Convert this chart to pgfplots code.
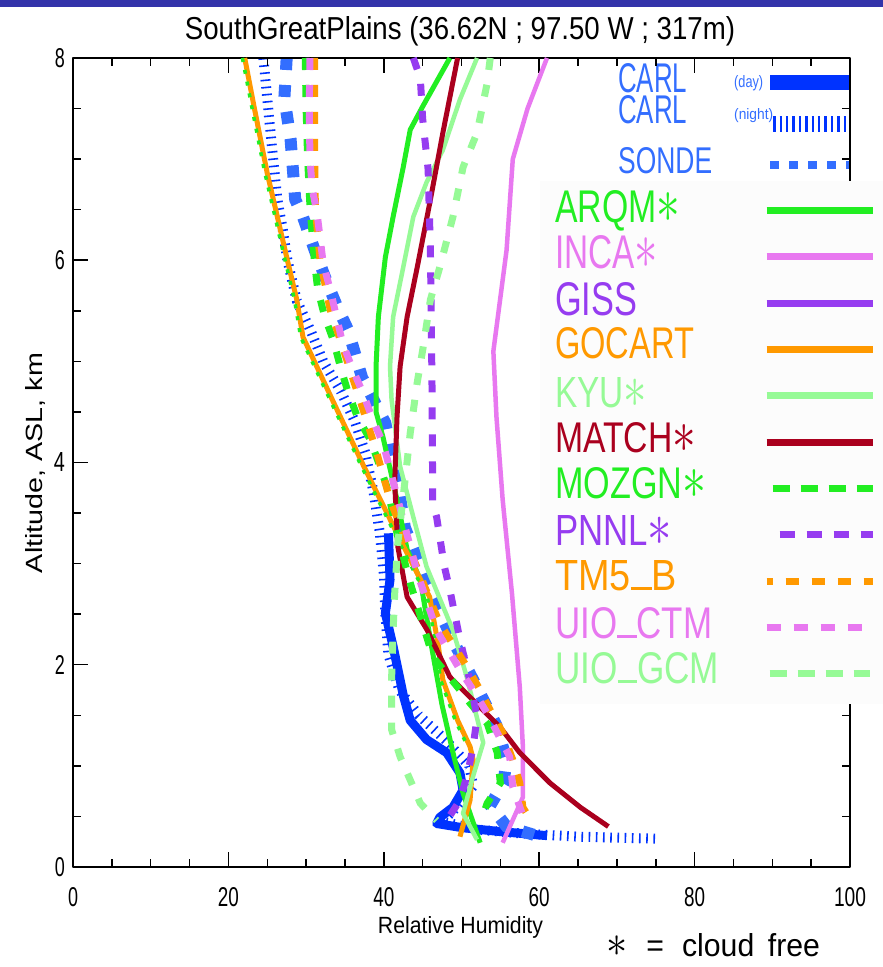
\documentclass[border=0pt]{standalone}
\usepackage{pgfplots}
\pgfplotsset{compat=1.18}
\usepackage{graphicx}
\usepackage{fontspec}
\setmainfont{Liberation Sans}

\definecolor{cblue}{RGB}{0,51,255}
\definecolor{sblue}{RGB}{51,110,255}
\definecolor{cgreen}{RGB}{34,238,34}
\definecolor{clgreen}{RGB}{150,250,150}
\definecolor{cviolet}{RGB}{232,120,240}
\definecolor{cpurple}{RGB}{150,60,240}
\definecolor{corange}{RGB}{255,153,0}
\definecolor{cred}{RGB}{170,0,30}
\definecolor{topbar}{RGB}{51,51,170}
\definecolor{legbg}{RGB}{252,252,252}

% text squeezed to a given width and height (bp)
\newcommand{\hx}[3]{\resizebox{#1bp}{#2bp}{#3}}
\newcommand{\capr}[4]{\smash{\raisebox{#3bp}{\hx{#1}{#2}{#4}}}}
\newcommand{\lrow}[3]{\rule[-#1bp]{0pt}{\dimexpr #1bp*2\relax}\makebox[#2bp][l]{#3}}
\newcommand{\astr}{\scalebox{1.4}{$\ast$}}
\newcommand{\us}{\rule{0.556em}{0.07em}}
\newcommand{\lm}[5]{\lrow{23.15}{170}{\textcolor{#1}{\capr{#2}{#3}{#4}{#5}}}}
\newcommand{\um}[1]{\lrow{20.5}{138}{#1}}

\pgfplotsset{
  base/.style={scale only axis, width=777bp, height=809bp,
    xmin=0, xmax=100, ymin=0, ymax=8,
    at={(73bp,100bp)}, anchor=south west, no markers, line join=round},
  % legend key: a common left reference at -20bp, then the stroke
  limg/.style n args={3}{legend image code/.code={\path (-20bp,0bp);\draw[#1] (#2bp,0bp) -- (#3bp,0bp);}},
  dsh/.style={line width=7bp, dash pattern=on 12bp off 15bp, line join=miter},
}

\begin{document}
\begin{tikzpicture}
\useasboundingbox (0,0) rectangle (883bp,967bp);
\fill[white] (0,0) rectangle (883bp,967bp);
\fill[topbar] (0,960bp) rectangle (883bp,967bp);

% observations: Raman lidar (day, night) and radiosonde
\begin{axis}[base, hide axis,
  legend style={at={(0.7014,0.9951)}, anchor=north west, draw=none, fill=none,
    inner sep=0pt, row sep=0pt, column sep=0pt,
    nodes={inner sep=0pt, text depth=}, cells={anchor=west}},
  legend plot pos=right]
\addplot[cblue, line width=9bp, limg={cblue, line width=15bp}{-12}{68}] coordinates {
 (40.6,3.30) (40.8,2.84) (40.2,2.51) (41.2,2.18) (42.1,1.85) (42.5,1.70) (43.4,1.45)
 (45.5,1.26) (48.1,1.13) (49.8,0.93) (50.2,0.76) (48.9,0.59) (47.2,0.49) (46.8,0.43)
 (50.0,0.39) (55.0,0.35) (61.0,0.31)};
\addlegendentry{\um{\textcolor{sblue}{\capr{69}{29}{-9.5}{CARL}\hspace{47bp}\capr{29}{12}{-4.5}{(day)}}}}
\addplot[cblue, line width=10bp, dash pattern=on 1.6bp off 5.6bp, line join=miter,
  limg={cblue, line width=16bp, dash pattern=on 2.4bp off 4bp}{-9}{68}] coordinates {
 (24.5,8.0) (25.0,7.6) (25.5,7.2) (26.3,6.6) (27.0,6.3) (27.6,6.0) (28.8,5.6) (30.6,5.3)
 (32.2,5.0) (34.5,4.7) (36.3,4.4) (37.6,4.1) (38.7,3.7) (39.5,3.3) (40.0,2.9) (40.2,2.5)
 (40.6,2.1) (42.0,1.75) (44.5,1.5) (48.0,1.25) (51.0,1.0) (51.5,0.8) (49.5,0.6) (47.5,0.45)
 (52.0,0.37) (58.0,0.33) (65.0,0.30) (75.0,0.28)};
\addlegendentry{\um{\textcolor{sblue}{\capr{69}{28}{0.5}{CARL}\hspace{47bp}\capr{39}{11}{4.5}{(night)}}}}
\addplot[sblue, line width=12bp, dash pattern=on 12bp off 15bp, line join=miter,
  limg={sblue, line width=8bp, dash pattern=on 9bp off 10bp}{-12}{68}] coordinates {
 (27.5,8.0) (27.2,7.6) (28.0,7.2) (28.3,6.9) (28.6,6.6) (29.5,6.45) (31.1,6.1) (32.7,5.78)
 (34.0,5.54) (35.4,5.31) (37.2,4.84) (38.8,4.6) (40.2,4.39) (40.8,4.15) (42.0,3.7) (42.7,3.36)
 (45.5,2.8) (48.9,2.24) (51.7,1.82) (54.5,1.4) (55.8,1.06) (55.4,0.83) (53.7,0.61) (55.8,0.40)
 (60.1,0.30)};
\addlegendentry{\um{\textcolor{sblue}{\capr{94}{26}{-8.5}{SONDE}}}}
\end{axis}

% models
\begin{axis}[base,
  xtick={0,20,...,100}, ytick={0,2,...,8},
  minor x tick num=3, minor y tick num=3,
  tick align=inside, major tick length=15bp, minor tick length=8bp,
  tick style={black, line width=1.5bp},
  axis line style={black, line width=2bp},
  xticklabels={\hx{10}{19}{0},\hx{21}{19}{20},\hx{21}{19}{40},\hx{21}{19}{60},\hx{21}{19}{80},\hx{32}{19}{100}},
  yticklabels={\hx{10}{19}{0},\hx{10}{19}{2},\hx{11}{19}{4},\hx{10}{19}{6},\hx{10}{19}{8}},
  xticklabel style={anchor=north, inner sep=0pt, yshift=-20bp},
  yticklabel style={anchor=east, inner sep=0pt, xshift=-8bp},
  legend style={at={(0.6010,0.8488)}, anchor=north west, draw=none, fill=legbg,
    inner xsep=15bp, inner ysep=7bp, row sep=0pt, column sep=26bp,
    nodes={inner sep=0pt, text depth=}, cells={anchor=west}},
  legend plot pos=right]
\addplot[cgreen, line width=5bp, limg={cgreen, line width=7bp}{-8}{98}] coordinates {
 (48.5,8.0) (45.0,7.52) (43.4,7.29) (42.5,6.92) (41.2,6.43) (40.2,6.03) (39.3,5.44) (39.0,4.95)
 (39.0,4.50) (39.9,4.25) (41.7,3.63) (43.0,3.14) (44.7,2.84) (46.1,2.20) (47.5,1.60) (49.0,1.10)
 (50.2,0.73) (52.4,0.24)};
\addlegendentry{\lm{cgreen}{125}{32}{-11.5}{ARQM\astr}}
\addplot[cviolet, line width=4.5bp, limg={cviolet, line width=7bp}{-8}{98}] coordinates {
 (61.0,8.0) (58.5,7.5) (56.6,7.0) (55.8,6.1) (54.1,5.1) (54.5,4.45) (55.3,3.63) (56.5,2.7)
 (57.5,1.78) (57.9,1.19) (57.9,0.69) (55.3,0.24)};
\addlegendentry{\lm{cviolet}{103}{33}{-11.2}{INCA\astr}}
\addlegendimage{limg={cpurple, line width=7bp}{-8}{98}}
\addlegendentry{\lm{cpurple}{82}{33}{-11.9}{GISS}}
\addplot[corange, line width=5bp, limg={corange, line width=7bp}{-8}{98}] coordinates {
 (22.1,8.0) (23.3,7.52) (25.0,6.86) (26.3,6.43) (27.5,6.03) (28.8,5.61) (29.6,5.24) (33.5,4.6)
 (37.5,3.95) (41.7,3.3) (44.0,2.95) (45.9,2.67) (47.0,2.2) (47.6,1.85) (49.5,1.45) (51.1,1.19)
 (51.5,1.06) (51.1,0.66) (49.8,0.30)};
\addlegendentry{\lm{corange}{139}{31}{-8.6}{GOCART}}
\addplot[cgreen, line width=3.5bp, dash pattern=on 4bp off 8bp, forget plot] coordinates {
 (21.8,8.0) (23.0,7.52) (24.7,6.86) (26.0,6.43) (27.2,6.03) (28.5,5.61) (29.3,5.24) (33.2,4.6)
 (37.2,3.95) (41.4,3.3) (43.7,2.95) (45.6,2.67) (46.7,2.2) (47.3,1.85) (49.2,1.45) (50.8,1.19)};
\addplot[clgreen, line width=4.5bp, limg={clgreen, line width=7bp}{-8}{98}] coordinates {
 (52.0,8.0) (49.8,7.59) (47.6,7.09) (45.5,6.77) (43.8,6.43) (42.5,5.93) (41.2,5.44) (40.8,4.95)
 (41.0,4.62) (42.1,3.96) (43.8,3.46) (45.5,2.97) (48.9,2.34) (50.6,1.9) (52.8,1.23) (51.5,0.9)
 (50.2,0.53) (52.0,0.27)};
\addlegendentry{\lm{clgreen}{92}{30}{-11.3}{KYU\astr}}
\addplot[cred, line width=5bp, limg={cred, line width=7bp}{-8}{98}] coordinates {
 (49.5,8.0) (47.6,7.26) (46.0,6.6) (44.3,5.93) (43.0,5.44) (42.1,4.95) (41.7,4.45) (41.4,3.8)
 (41.8,3.17) (43.0,2.67) (45.6,2.34) (48.5,1.88) (51.1,1.68) (55.0,1.38) (57.5,1.13) (61.4,0.83)
 (65.3,0.59) (68.9,0.40)};
\addlegendentry{\lm{cred}{141}{30}{-10}{MATCH\astr}}
\addplot[cgreen, dsh, limg={cgreen, line width=7bp, dash pattern=on 17bp off 11bp}{-2}{98}] coordinates {
 (29.9,8.0) (30.0,7.5) (30.2,7.0) (30.5,6.53) (30.8,6.23) (31.1,5.97) (31.5,5.71) (32.4,5.44)
 (33.5,5.21) (34.4,4.95) (35.3,4.72) (36.6,4.45) (38.3,4.22) (40.4,3.76) (41.7,3.3) (43.4,2.81)
 (46.3,2.08) (49.8,1.75) (51.1,1.62) (53.3,1.42) (54.6,1.13) (55.0,0.83) (53.3,0.63) (52.5,0.45)};
\addlegendentry{\lm{cgreen}{151}{31}{-9.7}{MOZGN\astr}}
\addplot[cpurple, dsh, limg={cpurple, line width=7bp, dash pattern=on 15bp off 12bp}{5}{98}] coordinates {
 (43.8,8.0) (44.7,7.8) (45.0,7.4) (45.7,6.9) (46.0,6.1) (46.2,4.8) (46.3,3.6) (46.8,3.46)
 (47.8,2.97) (48.5,2.74) (49.8,2.25) (51.2,1.8) (52.0,1.48) (51.5,1.19) (50.8,0.93) (49.8,0.66)
 (48.1,0.46)};
\addlegendentry{\lm{cpurple}{117}{30}{-10.4}{PNNL\astr}}
\addplot[corange, dsh, limg={corange, line width=7bp, dash pattern=on 13bp off 13bp, dash phase=7bp}{-8}{98}] coordinates {
 (31.1,8.0) (31.1,7.5) (31.1,7.0) (31.2,6.5) (31.8,6.0) (33.1,5.51) (35.0,5.07) (37.0,4.6)
 (38.9,4.15) (40.8,3.63) (42.5,3.3) (45.6,2.71) (47.2,2.41) (50.7,1.98) (52.4,1.75) (53.7,1.55)
 (55.3,1.33) (56.6,1.06) (57.5,0.83) (57.9,0.59) (59.2,0.43)};
\addlegendentry{\lm{corange}{122}{30}{-9.1}{TM5\us B}}
\addplot[cviolet, dsh, limg={cviolet, line width=7bp, dash pattern=on 14bp off 13bp}{-8}{88}] coordinates {
 (30.5,8.0) (30.4,7.5) (30.5,7.0) (30.8,6.7) (31.4,6.47) (32.2,5.97) (33.1,5.71) (34.7,5.18)
 (36.0,4.92) (37.3,4.69) (38.6,4.42) (39.9,4.19) (40.8,3.93) (42.5,3.43) (43.4,3.17) (44.3,2.91)
 (46.8,2.34) (49.8,1.95) (51.5,1.75) (53.3,1.52) (56.2,1.09) (56.6,0.79) (58.4,0.40)};
\addlegendentry{\lm{cviolet}{157}{31}{-10.8}{UIO\us CTM}}
\addplot[clgreen, dsh, limg={clgreen, line width=7bp, dash pattern=on 17bp off 11bp}{-5}{95}] coordinates {
 (53.7,8.0) (53.3,7.75) (52.0,7.26) (50.2,6.92) (48.9,6.43) (47.2,5.93) (46.0,5.61) (45.0,5.11)
 (44.3,4.79) (43.4,4.29) (42.7,3.8) (41.8,3.2) (41.4,2.7) (41.2,2.34) (41.0,1.85) (41.0,1.36)
 (42.1,1.09) (43.4,0.86) (44.7,0.63) (46.8,0.46)};
\addlegendentry{\lm{clgreen}{164}{31}{-9.5}{UIO\us GCM}}
\end{axis}

% titles and labels
\node[anchor=base, inner sep=0pt] at (460bp,927bp)
  {\hx{550}{23}{SouthGreatPlains (36.62N ; 97.50 W ; 317m)}};
\node[anchor=base, inner sep=0pt] at (460.5bp,33bp) {\hx{165}{17}{Relative Humidity}};
\node[anchor=base, inner sep=0pt, rotate=90] at (42bp,504bp) {\hx{220}{17}{Altitude, ASL, km}};
\node[anchor=base, inner sep=0pt] at (713.5bp,10bp)
  {\hx{213}{23}{\astr\hspace{0.6em}=\hspace{0.6em}cloud\hspace{0.45em}free}};
\end{tikzpicture}
\end{document}
